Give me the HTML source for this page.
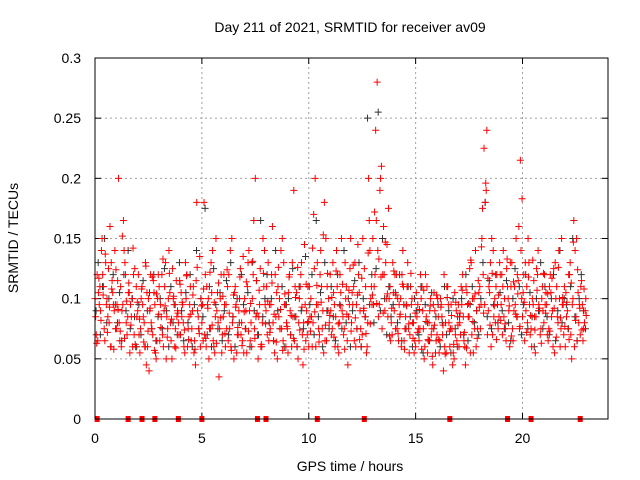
<!DOCTYPE html>
<html><head><meta charset="utf-8"><style>
html,body{margin:0;padding:0;background:#fff;}
svg{display:block;font-family:"Liberation Sans","DejaVu Sans",sans-serif;}
</style></head><body>
<svg id="chart" width="640" height="480" viewBox="0 0 640 480" xmlns="http://www.w3.org/2000/svg">
<rect width="640" height="480" fill="#fff"/>
<text x="350" y="32" font-size="14" text-anchor="middle" fill="#000">Day 211 of 2021, SRMTID for receiver av09</text>
<text x="350" y="471" font-size="14" text-anchor="middle">GPS time / hours</text>
<text transform="translate(18,238) rotate(-90)" font-size="14" text-anchor="middle">SRMTID / TECUs</text>
<g id="grid"></g>
<g id="ticks"></g>
<g id="marks"></g>
<rect x="95" y="58" width="513" height="361" fill="none" stroke="#000" stroke-width="1"/>
</svg>
<script>
const xTicks=[0,5,10,15,20];
const yTicks=[0,0.05,0.1,0.15,0.2,0.25,0.3];
const yTickLabels=["0","0.05","0.1","0.15","0.2","0.25","0.3"];
const sampleStepHours=0.1;
const zeroHours=[0.1,1.55,2.2,2.8,3.9,5.0,7.6,8.0,10.4,12.6,16.6,19.3,20.4,22.7];
// values in thousandths of TECU, one per 0.1 h
const red1=[100,120,95,140,110,130,85,160,115,90,75,200,110,95,130,70,105,85,120,60,90,55,110,80,45,100,120,70,95,65,110,85,60,130,75,105,50,95,115,80,70,95,55,120,85,65,110,45,90,135,80,180,60,100,75,140,55,90,35,120,85,60,110,75,150,50,95,70,125,65,100,55,140,80,120,200,70,95,60,110,90,130,75,160,55,105,85,140,65,95,75,120,60,190,85,50,110,70,145,90,60,100,80,200,130,70,110,55,150,90,120,75,95,140,55,105,85,130,65,95,80,110,60,145,90,70,125,55,200,100,150,120,280,95,210,160,130,85,110,70,90,120,65,100,140,75,110,55,95,80,60,95,75,110,50,85,65,100,45,90,70,55,95,40,80,110,60,75,50,90,95,70,120,60,105,85,130,55,140,75,110,150,225,190,90,130,70,100,120,85,95,140,75,110,60,130,90,150,115,215,85,65,110,130,75,95,55,120,90,100,80,105,65,120,90,55,110,140,75,95,60,90,120,50,165,85,105,70,95,80];
const red2=[85,65,110,150,75,95,125,60,105,140,95,80,60,165,120,85,55,100,70,110,120,75,95,60,105,40,80,115,55,100,65,120,90,50,100,80,125,60,85,70,105,80,130,60,95,75,55,115,85,60,95,70,110,50,130,65,85,105,75,55,120,95,65,140,80,105,55,90,70,135,75,110,90,60,165,85,50,125,80,140,110,65,95,80,120,50,100,75,130,60,55,90,130,65,105,80,120,45,95,70,110,85,170,60,95,120,75,180,65,100,90,130,60,110,80,150,70,100,45,125,105,65,95,120,75,150,85,60,165,110,95,240,140,190,75,120,100,175,65,130,120,75,95,60,110,85,130,70,100,55,105,75,120,90,60,110,80,70,95,55,100,65,85,120,55,95,75,45,105,65,60,110,85,45,95,125,70,100,60,115,75,175,95,240,110,60,140,80,95,130,120,85,65,100,130,75,110,85,160,140,105,130,80,95,60,115,85,140,70,110,120,95,75,105,60,130,85,100,150,70,105,75,130,95,60,150,80,110,65,90];
const red3=[70,105,90,120,65,100,80,130,95,75,115,65,90,140,80,105,95,60,125,85,70,100,85,130,60,90,75,105,50,120,95,70,110,85,140,65,100,75,90,115,85,60,100,75,110,90,65,180,75,100,65,120,95,75,105,60,150,80,100,70,95,75,120,60,85,110,70,100,80,55,90,130,65,100,75,115,85,60,150,95,70,95,120,65,85,110,75,150,95,80,105,70,85,110,60,100,130,80,65,110,85,60,125,95,75,140,90,65,110,80,70,105,85,60,120,90,75,110,85,150,95,130,75,105,60,90,110,80,140,95,110,165,85,200,120,90,145,100,80,105,75,100,85,120,65,95,75,110,80,65,85,65,100,75,120,55,90,75,105,65,85,100,70,60,110,80,95,55,70,85,80,95,65,110,85,55,100,75,90,105,95,120,180,70,105,150,85,110,75,120,70,100,125,90,110,65,95,120,75,100,120,90,150,70,100,85,125,95,75,90,95,70,110,85,125,100,80,60,95,110,85,120,70,100,140,65,95,115,75,100];
const red4=[63,117,82,103,137,72,93,108,58,124,91,73,152,67,98,113,78,142,62,97,83,108,64,127,73,92,118,57,104,87,76,133,94,68,121,83,102,59,88,112,97,74,119,66,87,103,58,126,71,94,108,67,92,122,78,97,63,113,84,102,71,124,88,57,103,93,76,118,61,89,114,73,96,131,67,88,107,62,121,79,98,72,113,87,64,126,91,57,104,77,118,86,67,101,126,74,93,58,112,81,73,142,89,111,64,97,153,78,121,86,101,68,123,79,94,112,58,87,107,73,128,84,103,66,117,92,71,138,79,103,172,96,133,118,88,147,104,69,92,123,103,71,87,112,58,94,79,121,67,88,72,91,58,107,81,66,94,52,78,103,66,93,78,54,101,73,86,62,97,78,88,107,72,59,96,132,81,104,67,93,143,88,196,117,78,121,94,66,103,82,110,79,133,94,69,114,87,104,77,183,97,72,118,86,132,74,107,92,63,121,88,104,73,117,92,68,126,84,101,77,97,66,113,147,82,124,92,74,108,86];
const black1=[90,130,70,110,150,80,100,60,120,95,80,105,65,120,90,140,75,100,85,60,95,70,115,60,90,105,75,120,65,85,100,75,125,90,60,110,80,95,70,130,90,65,105,80,120,60,95,140,75,100,85,175,70,110,60,125,95,75,105,65,90,115,70,130,85,60,100,80,120,95,75,105,60,130,90,115,70,165,85,100,120,80,100,65,140,90,75,110,60,95,100,70,125,85,60,110,90,75,135,80,95,120,70,165,85,105,60,130,90,75,110,85,65,120,95,75,140,80,100,60,90,115,75,130,60,100,85,250,95,120,80,125,255,90,150,100,70,110,85,95,105,80,120,65,95,75,110,85,60,100,90,70,110,55,95,80,65,105,75,85,95,60,80,110,70,90,55,100,75,60,85,100,70,120,65,95,110,80,90,70,100,130,180,85,115,75,95,120,80,105,90,75,115,80,65,100,125,85,110,70,95,120,75,105,85,60,100,90,130,75,110,85,70,100,120,65,90,140,80,100,95,75,110,150,85,65,100,120,90,75];

const X0=95,X1=608,Y0=419,Y1=58,XMAX=24,YMAX=0.3;
const xs=h=>X0+h/XMAX*(X1-X0);
const ys=v=>Y0-v/YMAX*(Y0-Y1);
const NS="http://www.w3.org/2000/svg";
function mk(tag,attrs,parent){const e=document.createElementNS(NS,tag);for(const k in attrs)e.setAttribute(k,attrs[k]);parent.appendChild(e);return e;}
const grid=document.getElementById('grid'),ticks=document.getElementById('ticks'),marks=document.getElementById('marks');
xTicks.forEach(t=>{const x=xs(t);
 if(t>0){const g=mk('line',{x1:x,x2:x,y1:Y0,y2:Y1,stroke:'#a0a0a0','stroke-dasharray':'2,3','stroke-width':1},grid);
 
 }
 mk('line',{x1:x,x2:x,y1:Y0,y2:Y0-6,stroke:'#000'},ticks);
 mk('line',{x1:x,x2:x,y1:Y1,y2:Y1+6,stroke:'#000'},ticks);
 const l=mk('text',{x:x,y:Y0+24,'font-size':14,'text-anchor':'middle'},ticks);l.textContent=t;
 
 
});
yTicks.forEach((t,i)=>{const y=ys(t);
 if(t>0&&t<YMAX){const g=mk('line',{x1:X0,x2:X1,y1:y,y2:y,stroke:'#a0a0a0','stroke-dasharray':'2,3','stroke-width':1},grid);
 
 }
 mk('line',{x1:X0,x2:X0+6,y1:y,y2:y,stroke:'#000'},ticks);
 mk('line',{x1:X1,x2:X1-6,y1:y,y2:y,stroke:'#000'},ticks);
 const l=mk('text',{x:X0-14,y:y+5,'font-size':14,'text-anchor':'end'},ticks);l.textContent=yTickLabels[i];
 
 
});
function plus(h,v,color,name){const x=xs(h),y=ys(v);
 const p=mk('path',{d:`M${x-3.5},${y}h7M${x},${y-3.5}v7`,stroke:color,'stroke-width':1,fill:'none'},marks);
 
 
}
function series(arr,offset,color,name){arr.forEach((v,i)=>plus(i*sampleStepHours+offset,v/1000,color,name));}
series(black1,0.05,'#333333','black-point');
series(red1,0,'#ff0000','red-point');
series(red2,0.03,'#ff0000','red-point');
series(red3,0.06,'#ff0000','red-point');
series(red4,0.08,'#ff0000','red-point');
zeroHours.forEach(h=>{const r=mk('rect',{x:xs(h)-2.5,y:Y0-3,width:5,height:6,fill:'#ff0000'},marks);
 
 });
</script>
</body></html>
